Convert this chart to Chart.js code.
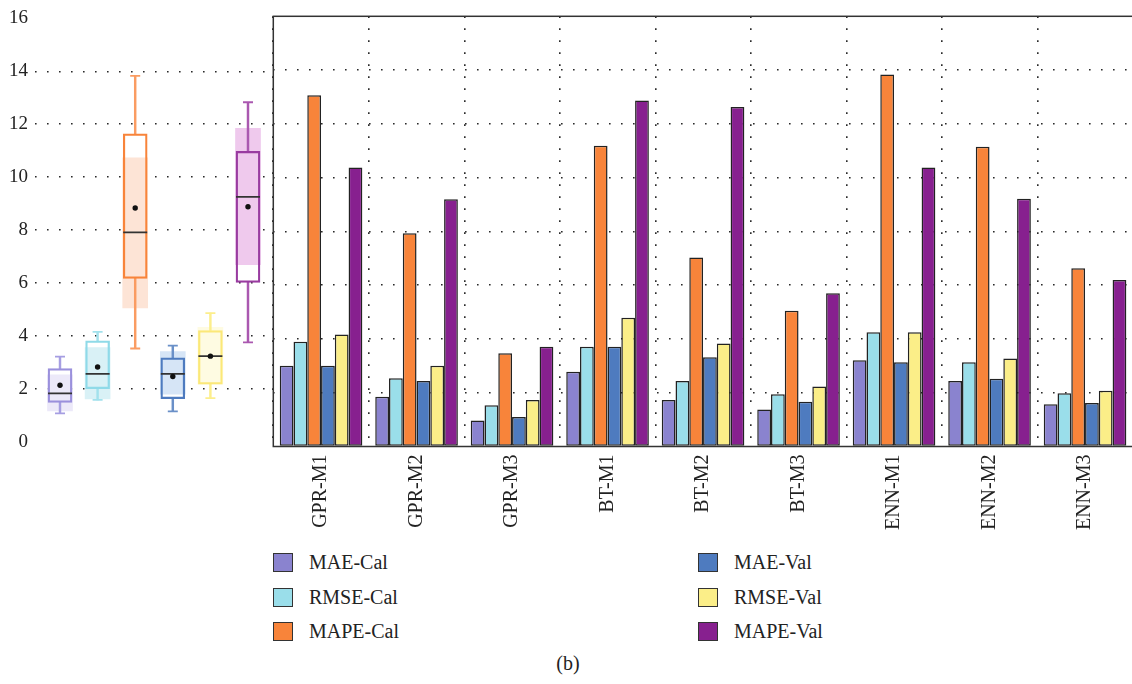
<!DOCTYPE html>
<html>
<head>
<meta charset="utf-8">
<script src="https://cdn.jsdelivr.net/npm/chart.js@4.4.1/dist/chart.umd.min.js"></script>
<style>
  html, body { margin: 0; padding: 0; background: #fff; overflow: hidden; width: 1132px; height: 684px; }
  #page { position: relative; width: 1132px; height: 684px; font-family: "Liberation Serif", serif; color: #222; }
  #boxWrap { position: absolute; left: 0; top: 0; width: 273px; height: 460px; }
  #barWrap { position: absolute; left: 263px; top: 0; width: 880px; height: 540px; }
  .key { position: absolute; height: 24px; display: flex; align-items: center; font-size: 20px; white-space: nowrap; }
  .swatch { width: 18px; height: 17px; border: 1.5px solid #333; margin-right: 16px; box-sizing: content-box; }
  #caption { position: absolute; left: 0; width: 1136px; top: 652px; text-align: center; font-size: 20px; }
</style>
</head>
<body>
<div id="page">
  <div id="boxWrap"><canvas id="boxChart"></canvas></div>
  <div id="barWrap"><canvas id="barChart"></canvas></div>
  <div id="legend"></div>
  <div id="caption">(b)</div>
</div>
<script>
// Models compared along the x axis
const categories = ['GPR-M1', 'GPR-M2', 'GPR-M3', 'BT-M1', 'BT-M2', 'BT-M3', 'ENN-M1', 'ENN-M2', 'ENN-M3'];

// Error metrics (calibration / validation)
const seriesNames = ['MAE-Cal', 'RMSE-Cal', 'MAPE-Cal', 'MAE-Val', 'RMSE-Val', 'MAPE-Val'];
const maeCal  = [3.00, 1.85, 0.97, 2.78, 1.73, 1.38, 3.21, 2.44, 1.57];
const rmseCal = [3.90, 2.54, 1.53, 3.71, 2.44, 1.94, 4.25, 3.13, 1.98];
const mapeCal = [13.06, 7.93, 3.47, 11.19, 7.03, 5.05, 13.84, 11.15, 6.63];
const maeVal  = [3.00, 2.44, 1.10, 3.71, 3.32, 1.66, 3.13, 2.52, 1.62];
const rmseVal = [4.17, 3.00, 1.73, 4.79, 3.83, 2.23, 4.25, 3.27, 2.07];
const mapeVal = [10.38, 9.20, 3.71, 12.87, 12.63, 5.70, 10.38, 9.21, 6.19];

// Summary of each metric over the nine models (one box per metric)
const boxMin    = [1.07, 1.58, 3.52, 1.14, 1.64, 3.75];
const boxQ1     = [1.48, 2.00, 6.17, 1.62, 2.17, 6.02];
const boxMedian = [1.82, 2.56, 7.91, 2.56, 3.23, 9.25];
const boxQ3     = [2.76, 3.81, 11.64, 3.17, 4.20, 10.97];
const boxMax    = [3.21, 4.15, 13.83, 3.63, 4.86, 12.83];
const boxMean   = [2.13, 2.82, 8.83, 2.46, 3.23, 8.88];
const bandLow   = [1.16, 1.61, 5.05, 1.79, 2.17, 6.69];
const bandHigh  = [2.52, 3.55, 10.73, 3.40, 4.32, 11.84];

// Y axis range and tick step
const yMin = 0, yMax = 16, yStep = 2;
// Horizontal extent of the box-plot panel (box slots 1..6)
const boxXMin = 0.335, boxXMax = 6.665;

// Colours
const barColors     = ['#8A83CF', '#9ADEEA', '#F8843A', '#4E7BBF', '#FBEE88', '#87208F'];
const boxLineColors = ['#9A90DC', '#8FDAE8', '#F8843A', '#4E7BBF', '#FBE878', '#993BA0'];
const whiskerColors = ['#A69EE2', '#A2E1EC', '#FA9C62', '#6A90C8', '#FCEE8C', '#AA58B0'];
const bandColors    = ['#ECE9F9', '#D9F1F6', '#FDE4D6', '#D6E5F6', '#FEFBE2', '#EFC9ED'];

const seriesValues = [maeCal, rmseCal, mapeCal, maeVal, rmseVal, mapeVal];
const serif = "'Liberation Serif', serif";
const dotColor = '#2a2a2a';
const gridColor = ctx => (ctx.tick && (ctx.tick.value === yMin || ctx.tick.value === yMax)) ? 'rgba(0,0,0,0)' : dotColor;

Chart.defaults.animation = false;
Chart.defaults.events = [];
Chart.defaults.plugins.tooltip.enabled = false;

// ----- Box plots on the left, sharing the value scale -----
const boxPos = seriesNames.map((_, i) => i + 1);
const pts = arr => arr.map((v, i) => ({ x: boxPos[i], y: v }));
const spans = (lo, hi) => lo.map((v, i) => ({ x: boxPos[i], y: [v, hi[i]] }));

new Chart(document.getElementById('boxChart'), {
  type: 'bar',
  data: {
    datasets: [
      { type: 'bar', data: spans(bandLow, bandHigh), backgroundColor: bandColors, borderWidth: 0,
        barThickness: 25, grouped: false, order: 6 },
      { type: 'bar', data: spans(boxMin, boxQ1), backgroundColor: whiskerColors, borderWidth: 0,
        barThickness: 1.8, grouped: false, order: 5 },
      { type: 'bar', data: spans(boxQ3, boxMax), backgroundColor: whiskerColors, borderWidth: 0,
        barThickness: 1.8, grouped: false, order: 5 },
      { type: 'line', data: pts(boxMax), showLine: false, pointStyle: 'line', pointRadius: 5,
        pointBorderColor: whiskerColors, pointBorderWidth: 1.8, order: 4 },
      { type: 'line', data: pts(boxMin), showLine: false, pointStyle: 'line', pointRadius: 5,
        pointBorderColor: whiskerColors, pointBorderWidth: 1.8, order: 4 },
      { type: 'bar', data: spans(boxQ1, boxQ3), backgroundColor: 'rgba(0,0,0,0)', borderColor: boxLineColors,
        borderWidth: 1.6, borderSkipped: false, barThickness: 24, grouped: false, order: 3 },
      { type: 'line', data: pts(boxMedian), showLine: false, pointStyle: 'line', pointRadius: 12,
        pointBorderColor: '#333', pointBorderWidth: 1.8, order: 2 },
      { type: 'line', data: pts(boxMean), showLine: false, pointStyle: 'circle', pointRadius: 2.7,
        pointBackgroundColor: '#111', pointBorderWidth: 0, order: 1 }
    ]
  },
  options: {
    responsive: true,
    maintainAspectRatio: false,
    devicePixelRatio: 1,
    layout: { autoPadding: false, padding: { top: 16.3, bottom: 13.5, left: 0, right: 0 } },
    plugins: { legend: { display: false } },
    scales: {
      x: { type: 'linear', display: false, offset: false, bounds: 'data', min: boxXMin, max: boxXMax },
      y: {
        min: yMin, max: yMax,
        ticks: { stepSize: yStep, padding: 7, color: '#222', font: { family: serif, size: 19 } },
        grid: { drawTicks: false, color: gridColor, lineWidth: 1.6 },
        border: { display: false, dash: [1.6, 10.4] },
        afterFit: s => { s.width = 35; }
      }
    }
  }
});

// ----- Grouped bars -----
const framePlugin = {
  id: 'frame',
  afterDatasetsDraw(chart) {
    const { ctx, chartArea: a } = chart;
    ctx.save();
    ctx.strokeStyle = '#333';
    ctx.lineWidth = 1.5;
    ctx.strokeRect(a.left, a.top, a.right - a.left, a.bottom - a.top);
    ctx.restore();
  }
};

new Chart(document.getElementById('barChart'), {
  type: 'bar',
  data: {
    labels: categories,
    datasets: seriesNames.map((name, i) => ({
      label: name,
      data: seriesValues[i],
      backgroundColor: barColors[i],
      borderColor: '#222',
      borderWidth: 1.5,
      borderSkipped: false,
      barPercentage: 1,
      categoryPercentage: 0.865
    }))
  },
  options: {
    responsive: true,
    maintainAspectRatio: false,
    devicePixelRatio: 1,
    layout: { autoPadding: false, padding: { top: 16.3, bottom: 0, left: 10.3, right: 10.2 } },
    plugins: { legend: { display: false } },
    scales: {
      x: {
        offset: true,
        grid: { offset: true, drawTicks: false, color: dotColor, lineWidth: 1.6 },
        border: { display: false, dash: [1.6, 10.4] },
        ticks: { minRotation: 90, maxRotation: 90, autoSkip: false, padding: 8, color: '#222',
                 font: { family: serif, size: 20 } },
        afterFit: s => { s.height = 93.5; }
      },
      y: {
        min: yMin, max: yMax,
        ticks: { display: false, stepSize: yStep },
        grid: { drawTicks: false, color: gridColor, lineWidth: 1.6 },
        border: { display: false, dash: [1.6, 10.4] },
        afterFit: s => { s.width = 0; }
      }
    }
  },
  plugins: [framePlugin]
});

// ----- Legend in two columns -----
const legend = document.getElementById('legend');
const colLeft = [273, 698];
const rowMid = [562, 597, 631];
seriesNames.forEach((name, i) => {
  const col = Math.floor(i / 3), row = i % 3;
  const item = document.createElement('div');
  item.className = 'key';
  item.style.left = colLeft[col] + 'px';
  item.style.top = (rowMid[row] - 12) + 'px';
  const sw = document.createElement('span');
  sw.className = 'swatch';
  sw.style.background = barColors[i];
  const tx = document.createElement('span');
  tx.textContent = name;
  item.appendChild(sw);
  item.appendChild(tx);
  legend.appendChild(item);
});
</script>
</body>
</html>
